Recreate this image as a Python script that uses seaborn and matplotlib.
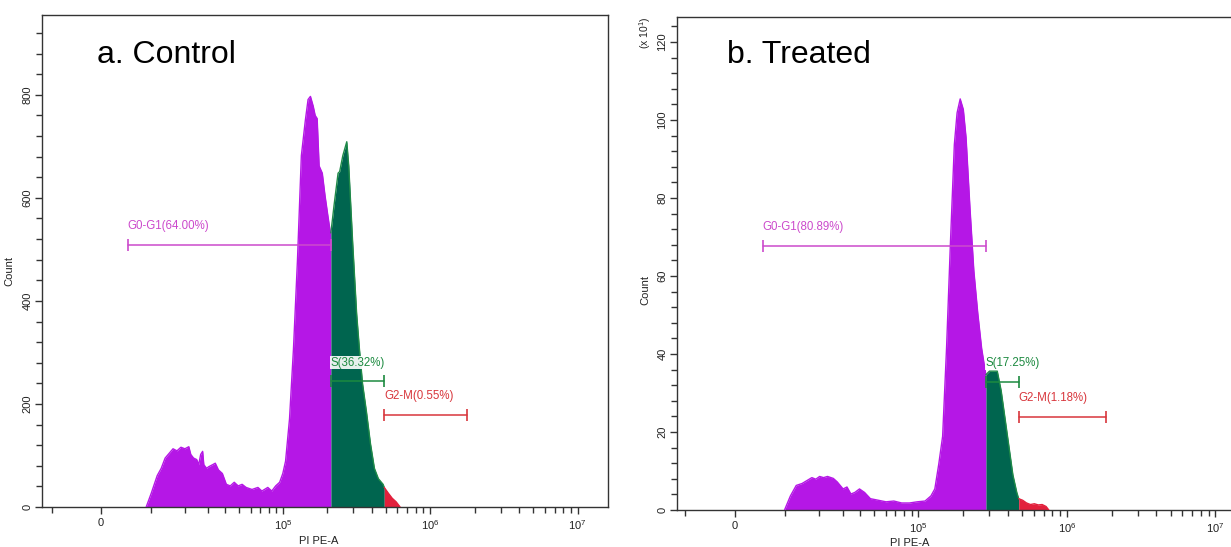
import numpy as np
import matplotlib
matplotlib.use("Agg")
import matplotlib.pyplot as plt
import seaborn as sns
import pandas as pd
from matplotlib.ticker import FixedLocator, MultipleLocator, NullFormatter

# ---------------- data ----------------
# Control panel: PI PE-A intensity and counts along the histogram outline
control_pi = [8960, 10170, 11650, 12700, 13790, 16130, 17390, 18720, 20120, 21590,
              22360, 23470, 24800, 25650, 26540, 27440, 28000, 29340, 30330, 32390,
              33910, 35720, 38100, 40640, 43320, 46180, 49200, 52420, 55830, 61350,
              67410, 71750, 78790, 83860, 89240, 94960, 99800, 104230, 110900, 118000,
              125530, 133530, 142060, 148340, 153950, 160760, 165800, 171000, 176370, 185300,
              193500, 202050, 209670, 212000, 223040, 237210, 243140, 255430, 271710, 280240,
              298040, 317030, 331010, 347770, 369860, 393430, 418450, 445070, 479270, 488000,
              519290, 552310, 587440, 613350, 624810]
control_count = [0, 27, 61, 75, 95, 113, 109, 116, 113, 117,
                 102, 95, 92, 82, 102, 108, 82, 75, 78, 82,
                 85, 72, 65, 44, 41, 48, 41, 44, 38, 34,
                 38, 31, 38, 31, 41, 48, 65, 89, 171, 307,
                 477, 682, 750, 791, 797, 778, 760, 754, 662, 648,
                 604, 566, 535, 532, 587, 648, 651, 682, 709, 662,
                 512, 375, 307, 239, 184, 123, 75, 55, 44, 38,
                 27, 17, 10, 3, 0]

# Treated panel: counts in units of x10^1
treated_pi = [9930, 11370, 12900, 14540, 16290, 17540, 18850, 20220, 21670, 23210,
              25660, 27420, 30240, 32250, 34390, 36650, 39540, 42900, 47120, 53340,
              60350, 68240, 77130, 87150, 98440, 111180, 121780, 129410, 137510, 146100,
              155230, 164920, 175220, 182810, 191880, 201410, 210130, 223230, 237150, 251940,
              267640, 284340, 286000, 302050, 320850, 340820, 362040, 384660, 408640, 434200,
              461240, 475000, 505060, 536560, 569930, 605480, 643200, 683260, 725800, 757170]
treated_count = [0, 3.6, 6.3, 6.8, 7.7, 8.3, 7.9, 8.6, 8.3, 8.6,
                 8.1, 7.2, 5.4, 5.9, 4.1, 4.5, 5.4, 4.5, 2.9, 2.5,
                 2.1, 2.3, 1.8, 1.8, 2.1, 2.3, 3.6, 5.4, 11.7, 18.9,
                 41.4, 68.5, 93.7, 101.8, 105.4, 102.7, 95.5, 77.5, 61.3, 50.5,
                 41.4, 35.1, 34.7, 35.6, 35.6, 35.6, 30.6, 23.4, 16.2, 9.0,
                 4.5, 2.9, 2.5, 1.8, 1.4, 1.6, 1.3, 1.4, 0.9, 0]

gate_names = ["G0-G1", "S", "G2-M"]
control_pct = ["64.00%", "36.32%", "0.55%"]
treated_pct = ["80.89%", "17.25%", "1.18%"]
# gate ranges [start, end] on PI PE-A
control_gates = [(5000, 212000), (212000, 488000), (488000, 1790000)]
treated_gates = [(5200, 286000), (286000, 475000), (475000, 1850000)]
control_gate_level = [509, 245, 179]
treated_gate_level = [67.7, 32.7, 23.9]
control_label_level = [546, 280, 215]
treated_label_level = [72.5, 37.6, 28.8]

x_major = [0, 1e5, 1e6, 1e7]
x_major_labels = ["0", "$10^5$", "$10^6$", "$10^7$"]
x_minor = [-1e4] + [k * 1e4 for k in range(1, 10)] + [k * 1e5 for k in range(2, 10)] + [k * 1e6 for k in range(2, 10)]

# ---------------- styling ----------------
sns.set_theme(style="ticks")
plt.rcParams['font.family'] = ['Liberation Sans', 'DejaVu Sans']
plt.rcParams['mathtext.default'] = 'regular'

MAG = '#B517E6'
GREEN = '#00654F'
GREEN_EDGE = '#1F8A48'
RED = '#E2203C'
gate_colors = ['#CC4ACC', '#1C8A40', '#D8363C']
AX_COL = '#333333'

W = 11750.0


def fwd(x):
    return np.arcsinh(np.asarray(x, dtype=float) / W) / np.log(10)


def inv(u):
    return W * np.sinh(np.asarray(u, dtype=float) * np.log(10))


fig = plt.figure(figsize=(12.31, 5.47), dpi=100)
axL = fig.add_axes([42 / 1231, 1 - 507 / 547, 566 / 1231, 492 / 547])
axR = fig.add_axes([677 / 1231, 1 - 510 / 547, 572 / 1231, 493 / 547])


def draw_panel(ax, xs, ys, gates, levels, lab_levels, pcts, title, ylim, xlim,
               ymajor, yminor, title_pos, ylab_pos, xlab_pos):
    ax.set_xscale('function', functions=(fwd, inv))
    df = pd.DataFrame({'PI PE-A': xs, 'Count': ys})
    b1 = gates[1][0]
    b2 = gates[2][0]
    segs = [(df['PI PE-A'] <= b1, MAG, MAG),
            ((df['PI PE-A'] >= b1) & (df['PI PE-A'] <= b2), GREEN, GREEN_EDGE),
            (df['PI PE-A'] >= b2, RED, RED)]
    for mask, fc, ec in segs:
        d = df[mask]
        ax.fill_between(d['PI PE-A'].values, 0, d['Count'].values, color=fc, lw=0, zorder=2)
        sns.lineplot(data=d, x='PI PE-A', y='Count', ax=ax, color=ec, lw=1.0,
                     sort=False, estimator=None, zorder=3)

    for (g0, g1), lv, llv, name, pct, col in zip(gates, levels, lab_levels, gate_names, pcts, gate_colors):
        ax.plot([g0, g1], [lv, lv], color=col, lw=1.1, zorder=5)
        ax.plot([g0, g1], [lv, lv], color=col, lw=0, marker='|', markersize=8,
                markeredgewidth=1.2, zorder=5)
        bbox = dict(facecolor='white', edgecolor='none', pad=0.5, alpha=0.9) if name == 'S' else None
        ax.text(g0, llv, f"{name}({pct})", color=col, fontsize=8.3,
                ha='left', va='center', zorder=6, bbox=bbox)

    ax.set_xlim(*xlim)
    ax.set_ylim(*ylim)
    ax.xaxis.set_major_locator(FixedLocator(x_major))
    ax.set_xticklabels(x_major_labels)
    ax.xaxis.set_minor_locator(FixedLocator(x_minor))
    ax.xaxis.set_minor_formatter(NullFormatter())
    ax.yaxis.set_major_locator(MultipleLocator(ymajor))
    ax.yaxis.set_minor_locator(MultipleLocator(yminor))

    for s in ax.spines.values():
        s.set_visible(True)
        s.set_color(AX_COL)
        s.set_linewidth(1.0)
    ax.tick_params(axis='both', which='major', length=5, width=1, color=AX_COL,
                   labelsize=8, labelcolor='#222222')
    ax.tick_params(axis='both', which='minor', length=4, width=1, color=AX_COL)
    ax.tick_params(axis='y', which='major', labelrotation=90, pad=2)
    ax.tick_params(axis='x', which='major', pad=3)
    for t in ax.get_yticklabels():
        t.set_va('center')
    ax.set_xlabel('PI PE-A', fontsize=8, color='#222222')
    ax.set_ylabel('Count', fontsize=8, color='#222222')
    ax.yaxis.set_label_coords(*ylab_pos)
    ax.xaxis.set_label_coords(*xlab_pos)
    ax.text(title_pos[0], title_pos[1], title, transform=ax.transAxes, fontsize=23,
            ha='left', va='center', color='black')
    ax.grid(False)


draw_panel(axL, control_pi, control_count, control_gates, control_gate_level,
           control_label_level, control_pct, 'a. Control', (0, 955), (-12460, 1.605e7),
           200, 40, (0.097, 0.919), (-0.048, 0.48), (0.488, -0.058))
draw_panel(axR, treated_pi, treated_count, treated_gates, treated_gate_level,
           treated_label_level, treated_pct, 'b. Treated', (0, 126.4), (-12015, 1.68e7),
           20, 4, (0.0874, 0.923), (-0.047, 0.446), (0.407, -0.056))

fig.text(645 / 1231, 1 - 33 / 547, r'(x 10$^1$)', rotation=90, fontsize=7.5,
         ha='center', va='center', color='#222222')

fig.savefig('out.png', dpi=100)
